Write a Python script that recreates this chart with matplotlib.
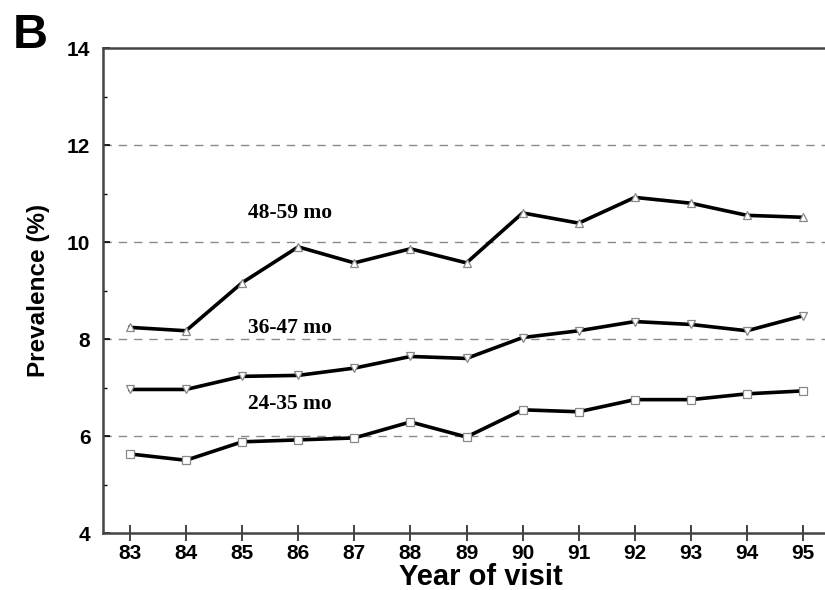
import matplotlib
matplotlib.use("Agg")
import matplotlib.pyplot as plt
from matplotlib.ticker import MultipleLocator

years = [83, 84, 85, 86, 87, 88, 89, 90, 91, 92, 93, 94, 95]
year_labels = [str(y) for y in years]
age_48_59 = [8.24, 8.17, 9.16, 9.90, 9.57, 9.86, 9.57, 10.60, 10.39, 10.92, 10.80, 10.55, 10.51]
age_36_47 = [6.96, 6.96, 7.23, 7.25, 7.40, 7.64, 7.60, 8.03, 8.17, 8.36, 8.30, 8.17, 8.48]
age_24_35 = [5.63, 5.50, 5.88, 5.92, 5.96, 6.29, 5.98, 6.54, 6.50, 6.75, 6.75, 6.87, 6.93]
series_labels = ["48-59 mo", "36-47 mo", "24-35 mo"]
yticks = [4, 6, 8, 10, 12, 14]

fig = plt.figure(figsize=(8.25, 5.9), dpi=100)
ax = fig.add_axes([0.1248, 0.0966, 0.8752, 0.822])

ax.set_xlim(82.52, 95.39)
ax.set_ylim(4, 14)

for yv in [6, 8, 10, 12]:
    ax.axhline(yv, color="#8a8a8a", lw=1.0, ls=(0, (6, 5)), zorder=1)

mk = dict(markersize=6, markerfacecolor="white", markeredgecolor="#888888", markeredgewidth=0.9)
ax.plot(years, age_48_59, color="black", lw=2.6, marker="^", zorder=3, **mk)
ax.plot(years, age_36_47, color="black", lw=2.6, marker="v", zorder=3, **mk)
ax.plot(years, age_24_35, color="black", lw=2.6, marker="s", zorder=3, **mk)

lab_pos = [(85.85, 10.6), (85.85, 8.22), (85.85, 6.66)]
for (lx, ly), txt in zip(lab_pos, series_labels):
    ax.text(lx, ly, txt, family="Liberation Serif", fontweight="bold", fontsize=15.5,
            ha="center", va="center")

ax.spines["right"].set_visible(False)
for s in ["left", "bottom", "top"]:
    ax.spines[s].set_color("#444444")
    ax.spines[s].set_linewidth(1.8)

ax.set_xticks(years)
ax.set_xticklabels(year_labels)
ax.set_yticks(yticks)
ax.yaxis.set_minor_locator(MultipleLocator(1))
ax.tick_params(axis="x", direction="inout", length=12, width=1.2, pad=2, colors="#222222")
ax.tick_params(axis="y", which="major", direction="in", length=5, width=1.2, pad=9)
ax.tick_params(axis="y", which="minor", direction="in", length=3, width=1.0)
for t in ax.get_xticklabels() + ax.get_yticklabels():
    t.set_family("Liberation Sans")
    t.set_fontweight("bold")
    t.set_fontsize(15)
    t.set_color("black")

ax.set_xlabel("Year of visit", family="Liberation Sans", fontweight="bold", fontsize=21)
ax.xaxis.set_label_coords(0.5235, -0.062)
ax.set_ylabel("Prevalence (%)", family="Liberation Sans", fontweight="bold", fontsize=17.5, labelpad=12)

fig.text(0.016, 0.978, "B", family="Liberation Sans", fontweight="bold", fontsize=35, ha="left", va="top")

fig.savefig("out.png", dpi=100)
